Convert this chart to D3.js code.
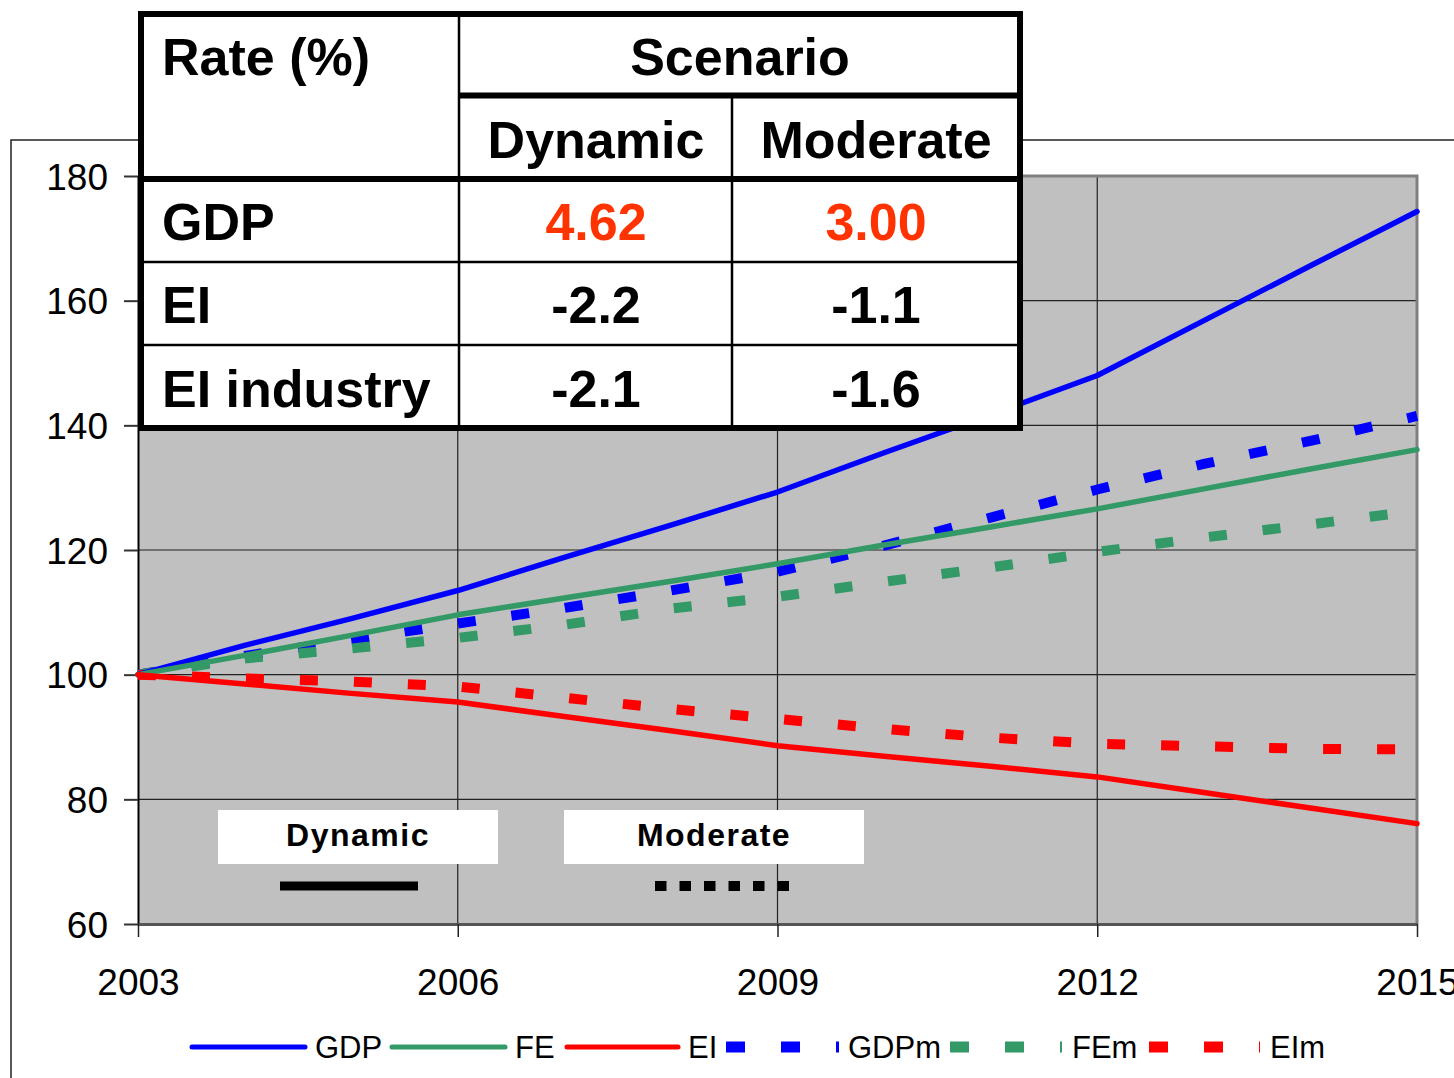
<!DOCTYPE html>
<html><head><meta charset="utf-8">
<script src="https://cdn.jsdelivr.net/npm/d3@7"></script>
<style>body{margin:0;background:#fff}svg{display:block;font-family:"Liberation Sans",Arial,sans-serif}</style>
</head><body>
<script>
const years = [2003,2004,2005,2006,2007,2008,2009,2010,2011,2012,2013,2014,2015];
const GDP  = [100,104.7,109.0,113.5,118.8,124.0,129.3,135.6,141.7,148.0,156.8,165.6,174.3];
const FE   = [100,103.1,106.3,109.6,112.3,115.0,117.8,120.8,123.7,126.6,129.8,133.0,136.1];
const EI   = [100,98.5,97.0,95.6,93.3,91.0,88.6,86.9,85.3,83.6,81.1,78.6,76.1];
const GDPm = [100,103.0,105.6,108.2,110.7,113.5,116.5,120.7,125.2,129.7,133.8,137.5,141.5];
const FEm  = [100,102.6,104.2,105.9,108.0,110.6,112.5,114.9,117.2,119.7,122.0,124.1,126.3];
const EIm  = [100,99.4,98.9,98.1,96.3,94.5,92.9,91.3,89.9,88.9,88.5,88.1,88.0];
const yTicks = [60,80,100,120,140,160,180];
const xTicks = [2003,2006,2009,2012,2015];
const seriesNames = ["GDP","FE","EI","GDPm","FEm","EIm"];
const seriesColors = ["#0000ff","#339966","#ff0000","#0000ff","#339966","#ff0000"];
const seriesDashed = [false,false,false,true,true,true];
const seriesData = [GDP,FE,EI,GDPm,FEm,EIm];
const tableHeader = ["Rate (%)","Scenario","Dynamic","Moderate"];
const tableRowLabels = ["GDP","EI","EI industry"];
const tableDynamic = ["4.62","-2.2","-2.1"];
const tableModerate = ["3.00","-1.1","-1.6"];
const insetLabels = ["Dynamic","Moderate"];

const W=1454,H=1078;
const svg=d3.select("body").append("svg").attr("width",W).attr("height",H);
svg.append("rect").attr("width",W).attr("height",H).attr("fill","#fff");
// outer chart area border
svg.append("rect").attr("x",11).attr("y",140).attr("width",W).attr("height",H).attr("fill","none").attr("stroke","#222").attr("stroke-width",1.5);

const x=d3.scaleLinear().domain([2003,2015]).range([138,1417]);
const y=d3.scaleLinear().domain([60,180]).range([924,176]);

svg.append("rect").attr("x",x(2003)).attr("y",y(180)).attr("width",x(2015)-x(2003)).attr("height",y(60)-y(180)).attr("fill","#c0c0c0");
// gridlines
svg.append("g").selectAll("line").data(yTicks.filter(d=>d>60&&d<180)).join("line")
  .attr("x1",x(2003)).attr("x2",x(2015)).attr("y1",d=>y(d)).attr("y2",d=>y(d)).attr("stroke","#222").attr("stroke-width",1.2);
svg.append("g").selectAll("line").data(xTicks.filter(d=>d>2003&&d<2015)).join("line")
  .attr("x1",d=>x(d)).attr("x2",d=>x(d)).attr("y1",y(180)).attr("y2",y(60)).attr("stroke","#222").attr("stroke-width",1.2);
// plot border top/right
svg.append("path").attr("d",`M${x(2003)},${y(180)}H${x(2015)}V${y(60)}`).attr("fill","none").attr("stroke","#808080").attr("stroke-width",3);

// axes
const ya=svg.append("g").attr("transform",`translate(${x(2003)},0)`).call(d3.axisLeft(y).tickValues(yTicks).tickSize(14).tickPadding(16).tickSizeOuter(0));
ya.select(".domain").attr("stroke","#000").attr("stroke-width",2);
ya.selectAll("line").attr("stroke","#333").attr("stroke-width",2);
ya.selectAll("text").attr("font-size",37).attr("fill","#000").attr("font-family","Liberation Sans, Arial, sans-serif").attr("dy","0.36em");
const xa=svg.append("g").attr("transform",`translate(0,${y(60)})`).call(d3.axisBottom(x).tickValues(xTicks).tickFormat(d3.format("d")).tickSize(13).tickSizeOuter(0));
xa.select(".domain").attr("stroke","#555").attr("stroke-width",3);
xa.selectAll("line").attr("stroke","#222").attr("stroke-width",1.5);
xa.selectAll("text").attr("font-size",37).attr("fill","#000").attr("font-family","Liberation Sans, Arial, sans-serif").attr("y",71).attr("dy",0);

// lines
const line=d3.line().x((d,i)=>x(years[i])).y(d=>y(d));
const order=[3,4,5,0,1,2];
order.forEach(k=>{
  const p=svg.append("path").datum(seriesData[k]).attr("d",line).attr("fill","none").attr("stroke",seriesColors[k]);
  if(seriesDashed[k]) p.attr("stroke-width",10).attr("stroke-dasharray","18,36");
  else p.attr("stroke-width",5.5).attr("stroke-linejoin","round").attr("stroke-linecap","round");
});

// inset legend
const boxes=[{x:218,w:280},{x:564,w:300}];
insetLabels.forEach((t,i)=>{
  svg.append("rect").attr("x",boxes[i].x).attr("y",810).attr("width",boxes[i].w).attr("height",54).attr("fill","#fff");
  svg.append("text").attr("x",boxes[i].x+boxes[i].w/2).attr("y",846).attr("text-anchor","middle").attr("font-size",32).attr("font-weight","bold").attr("letter-spacing",1.5).text(t);
});
svg.append("line").attr("x1",280).attr("x2",418).attr("y1",886).attr("y2",886).attr("stroke","#000").attr("stroke-width",9);
svg.append("line").attr("x1",655).attr("x2",790).attr("y1",886).attr("y2",886).attr("stroke","#000").attr("stroke-width",10).attr("stroke-dasharray","11.5,13");

// table
const T=svg.append("g");
T.append("rect").attr("x",141).attr("y",14).attr("width",879).attr("height",414).attr("fill","#fff");
const thin=(x1,y1,x2,y2)=>T.append("line").attr("x1",x1).attr("y1",y1).attr("x2",x2).attr("y2",y2).attr("stroke","#000").attr("stroke-width",2.5);
const thick=(x1,y1,x2,y2)=>T.append("line").attr("x1",x1).attr("y1",y1).attr("x2",x2).attr("y2",y2).attr("stroke","#000").attr("stroke-width",6);
thin(459,14,459,428); thin(732,95,732,428);
thin(141,262,1020,262); thin(141,345,1020,345);
thick(459,95.5,1020,95.5); thick(141,179,1020,179);
T.append("rect").attr("x",141).attr("y",14).attr("width",879).attr("height",414).attr("fill","none").attr("stroke","#000").attr("stroke-width",6);
const txt=(s,xx,yy,anchor,color)=>T.append("text").attr("x",xx).attr("y",yy).attr("text-anchor",anchor).attr("font-size",52).attr("font-weight","bold").attr("fill",color||"#000").text(s);
txt(tableHeader[0],162,75,"start");
txt(tableHeader[1],740,75,"middle");
txt(tableHeader[2],596,158,"middle");
txt(tableHeader[3],876,158,"middle");
const rowBase=[240,323,407];
tableRowLabels.forEach((r,i)=>{
  txt(r,162,rowBase[i],"start");
  txt(tableDynamic[i],596,rowBase[i],"middle",i===0?"#ff3300":"#000");
  txt(tableModerate[i],876,rowBase[i],"middle",i===0?"#ff3300":"#000");
});

// bottom legend
const legItems=[{x1:192,x2:305,tx:315},{x1:392,x2:505,tx:515},{x1:567,x2:678,tx:688},{x1:726,x2:839,tx:848},{x1:950,x2:1062,tx:1072},{x1:1149,x2:1260,tx:1270}];
const L=svg.append("g");
seriesNames.forEach((n,k)=>{
  const it=legItems[k];
  const l=L.append("line").attr("x1",it.x1).attr("x2",it.x2).attr("y1",1047).attr("y2",1047).attr("stroke",seriesColors[k]);
  if(seriesDashed[k]) l.attr("stroke-width",11).attr("stroke-dasharray","19,36");
  else l.attr("stroke-width",5).attr("stroke-linecap","round");
  L.append("text").attr("x",it.tx).attr("y",1058).attr("font-size",31).attr("fill","#000").text(n);
});
</script>
</body></html>
